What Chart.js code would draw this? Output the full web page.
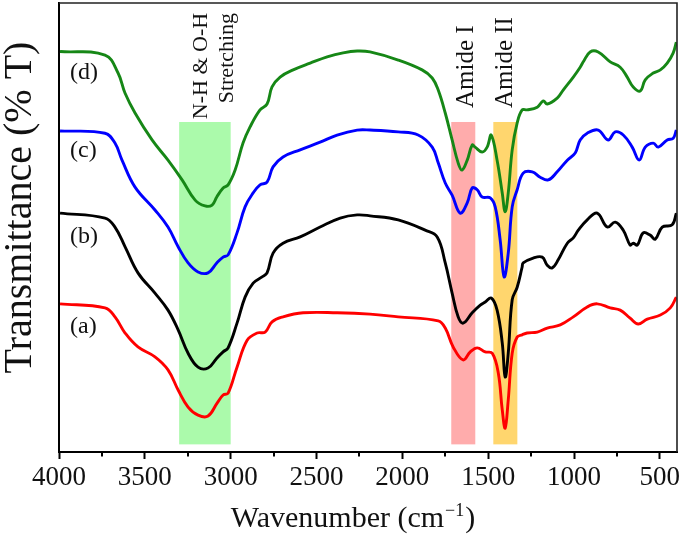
<!DOCTYPE html>
<html>
<head>
<meta charset="utf-8">
<script src="https://cdn.jsdelivr.net/npm/chart.js@4.4.1/dist/chart.umd.min.js"></script>
<style>
  html, body { margin: 0; padding: 0; background: #fff; }
  #wrap { width: 685px; height: 536px; }
</style>
</head>
<body>
<div id="wrap"><canvas id="ftir"></canvas></div>
<script>
// wavenumber (cm-1) and transmittance (arbitrary, offset)
const waveA = [3994, 3732, 3674, 3615, 3540, 3441, 3365, 3306, 3248, 3190, 3132, 3079, 3044, 3015, 2963,
  2904, 2846, 2799, 2759, 2695, 2578, 2380, 2188, 2024, 1791, 1750, 1704, 1646, 1604, 1564,
  1517, 1476, 1441, 1418, 1401, 1383, 1360, 1331, 1302, 1273, 1214, 1156, 1080, 1004, 923,
  865, 789, 731, 673, 626, 573, 497, 439, 404];
const transA = [33.0, 32.1, 30.1, 26.5, 23.4, 21.2, 18.3, 13.8, 10.0, 8.2, 8.0, 10.9, 12.7, 13.1, 18.9,
  24.9, 26.5, 26.7, 29.0, 30.1, 31.0, 31.0, 30.7, 30.1, 29.2, 27.6, 23.4, 20.5, 22.3, 23.2,
  22.3, 22.0, 17.6, 9.4, 5.3, 11.6, 22.0, 25.6, 26.1, 26.5, 26.7, 27.6, 28.3, 30.1, 32.3,
  33.0, 32.1, 31.6, 29.8, 28.5, 29.6, 30.5, 32.1, 34.5];

const waveB = [3994, 3732, 3674, 3615, 3540, 3441, 3365, 3306, 3248, 3190, 3132, 3081, 3044, 3015, 2963,
  2916, 2869, 2817, 2788, 2753, 2695, 2595, 2479, 2362, 2263, 2188, 2024, 1867, 1797, 1750,
  1710, 1675, 1646, 1593, 1546, 1517, 1482, 1448, 1418, 1401, 1383, 1360, 1331, 1302, 1296,
  1238, 1185, 1156, 1127, 1092, 1039, 1004, 975, 923, 865, 806, 760, 713, 673, 655,
  631, 597, 556, 527, 486, 428, 404];
const transB = [53.2, 52.1, 50.1, 45.7, 39.9, 35.4, 31.6, 27.2, 22.0, 18.9, 18.7, 20.9, 22.3, 23.2, 28.7,
  34.5, 37.6, 39.0, 39.9, 44.3, 46.5, 47.9, 50.1, 52.1, 52.8, 52.6, 51.7, 49.4, 47.9, 42.1,
  35.4, 30.1, 28.7, 31.0, 32.7, 33.4, 34.3, 31.6, 24.3, 16.7, 22.0, 33.9, 36.7, 41.2, 42.1,
  43.2, 43.4, 41.6, 41.0, 42.8, 46.5, 47.7, 49.4, 51.7, 53.2, 50.1, 51.2, 49.4, 46.1, 46.5,
  46.1, 48.8, 48.3, 47.4, 50.1, 50.6, 53.2];

const waveC = [3994, 3732, 3674, 3633, 3557, 3441, 3365, 3306, 3248, 3190, 3132, 3081, 3044, 3015, 2963,
  2916, 2869, 2829, 2788, 2753, 2695, 2595, 2479, 2380, 2263, 2188, 2024, 1908, 1826, 1791,
  1750, 1710, 1663, 1622, 1593, 1564, 1535, 1488, 1459, 1430, 1407, 1383, 1360, 1331, 1296,
  1243, 1197, 1150, 1098, 1039, 993, 964, 923, 859, 801, 760, 713, 661, 620, 585,
  538, 509, 457, 422, 404];
const transC = [71.5, 71.0, 68.8, 65.0, 59.0, 53.9, 50.1, 45.7, 42.1, 40.1, 39.9, 42.1, 43.4, 43.9, 48.8,
  54.6, 57.7, 59.5, 60.1, 63.5, 65.7, 67.3, 69.0, 70.6, 71.7, 71.7, 71.3, 70.6, 67.9, 64.4,
  59.9, 57.2, 53.2, 55.5, 58.8, 58.4, 56.8, 56.6, 54.6, 47.2, 39.0, 44.3, 54.6, 58.4, 62.1,
  62.4, 61.2, 60.6, 62.4, 65.0, 66.6, 69.5, 71.0, 71.7, 69.5, 71.3, 70.6, 67.9, 65.0, 67.9,
  68.8, 67.9, 69.5, 69.9, 71.7];

const waveD = [3994, 3732, 3656, 3615, 3557, 3458, 3365, 3283, 3207, 3149, 3108, 3081, 3044, 3015, 2974,
  2928, 2887, 2829, 2788, 2759, 2712, 2636, 2537, 2438, 2345, 2263, 2188, 2024, 1885, 1826,
  1791, 1750, 1710, 1675, 1652, 1622, 1593, 1576, 1535, 1506, 1482, 1448, 1418, 1401, 1383,
  1360, 1331, 1302, 1273, 1214, 1179, 1156, 1098, 1063, 1004, 964, 946, 906, 859, 789,
  731, 690, 655, 614, 585, 538, 497, 457, 422, 404];
const transD = [89.2, 88.4, 84.4, 79.9, 75.5, 69.5, 65.0, 60.6, 56.1, 54.8, 55.0, 56.8, 58.8, 59.5, 62.8,
  68.8, 72.4, 76.2, 77.5, 81.3, 83.5, 85.1, 86.6, 88.0, 88.9, 89.3, 89.1, 87.3, 85.1, 83.3,
  80.6, 75.5, 69.5, 64.4, 62.8, 65.0, 68.4, 67.9, 66.8, 67.9, 70.6, 65.0, 57.7, 53.5, 57.7,
  67.3, 73.3, 76.2, 76.2, 76.8, 78.2, 77.5, 78.8, 80.6, 83.5, 85.7, 86.9, 89.1, 89.1, 86.9,
  85.7, 83.5, 81.3, 80.4, 82.9, 84.4, 85.1, 86.6, 88.9, 91.3];

const seriesNames = ['(a)', '(b)', '(c)', '(d)'];
const majorTicks = [4000, 3500, 3000, 2500, 2000, 1500, 1000, 500];
const minorTicks = [3750, 3250, 2750, 2250, 1750, 1250, 750];

// shaded absorption bands
const bandFrom = [3300, 1715, 1470];
const bandTo = [3000, 1575, 1330];

const SERIF = "'Liberation Serif', 'Times New Roman', serif";

const toPoints = (w, t) => w.map((v, i) => ({ x: v, y: t[i] }));

function vText(ctx, str, px, py, align, size) {
  ctx.save();
  ctx.translate(px, py);
  ctx.rotate(-Math.PI / 2);
  ctx.font = size + 'px ' + SERIF;
  ctx.textAlign = align;
  ctx.textBaseline = 'alphabetic';
  ctx.fillText(str, 0, 0);
  ctx.restore();
}

const decor = {
  id: 'decor',
  beforeDatasetsDraw(chart) {
    const { ctx, scales: { x, y } } = chart;
    const colors = ['#abfaab', '#ffacac', '#ffd66e'];
    ctx.save();
    bandFrom.forEach((from, i) => {
      const x0 = x.getPixelForValue(from);
      const x1 = x.getPixelForValue(bandTo[i]);
      const y0 = y.getPixelForValue(73.5);
      const y1 = y.getPixelForValue(1.7);
      ctx.fillStyle = colors[i];
      ctx.fillRect(x0, y0, x1 - x0, y1 - y0);
    });
    ctx.restore();
  },
  afterDraw(chart) {
    const { ctx, chartArea: a, scales: { x, y } } = chart;
    ctx.save();
    // top and right frame
    ctx.strokeStyle = '#222';
    ctx.lineWidth = 1.6;
    ctx.beginPath();
    ctx.moveTo(a.left, a.top);
    ctx.lineTo(a.right, a.top);
    ctx.lineTo(a.right, a.bottom);
    ctx.stroke();
    // minor ticks
    ctx.strokeStyle = '#000';
    ctx.lineWidth = 2;
    minorTicks.forEach(v => {
      const px = Math.round(x.getPixelForValue(v));
      ctx.beginPath();
      ctx.moveTo(px, a.bottom);
      ctx.lineTo(px, a.bottom + 4.5);
      ctx.stroke();
    });

    ctx.fillStyle = '#111';
    // band labels
    vText(ctx, 'N-H & O-H', x.getPixelForValue(3138), y.getPixelForValue(97.8), 'right', 22);
    vText(ctx, 'Stretching', x.getPixelForValue(2988), y.getPixelForValue(97.8), 'right', 22);
    vText(ctx, 'Amide I', x.getPixelForValue(1587), y.getPixelForValue(76.6), 'left', 25);
    vText(ctx, 'Amide II', x.getPixelForValue(1360), y.getPixelForValue(76.6), 'left', 25);

    // curve labels
    const labelY = [27.8, 47.9, 67.0, 84.4];
    ctx.font = '24px ' + SERIF;
    ctx.textAlign = 'left';
    ctx.textBaseline = 'middle';
    seriesNames.forEach((s, i) => ctx.fillText(s, x.getPixelForValue(3936), y.getPixelForValue(labelY[i])));

    // axis titles
    ctx.fillStyle = '#111';
    ctx.textBaseline = 'alphabetic';
    const big = '30px ' + SERIF, small = '18px ' + SERIF;
    const p1 = 'Wavenumber (cm', p2 = '\u22121', p3 = ')';
    ctx.font = big;
    const w1 = ctx.measureText(p1).width, w3 = ctx.measureText(p3).width;
    ctx.font = small;
    const w2 = ctx.measureText(p2).width;
    let tx = (a.left + a.right) / 2 - 16 - (w1 + w2 + w3) / 2;
    const ty = 527;
    ctx.textAlign = 'left';
    ctx.font = big; ctx.fillText(p1, tx, ty); tx += w1;
    ctx.font = small; ctx.fillText(p2, tx + 1, ty - 11); tx += w2 + 2;
    ctx.font = big; ctx.fillText(p3, tx, ty);

    vText(ctx, 'Transmittance (% T)', 31, (a.top + a.bottom) / 2 - 20, 'center', 40);
    ctx.restore();
  }
};

new Chart(document.getElementById('ftir'), {
  type: 'line',
  data: {
    datasets: [
      { label: seriesNames[0], data: toPoints(waveA, transA), borderColor: 'rgb(255, 0, 0)' },
      { label: seriesNames[1], data: toPoints(waveB, transB), borderColor: '#000000' },
      { label: seriesNames[2], data: toPoints(waveC, transC), borderColor: 'rgb(0, 0, 255)' },
      { label: seriesNames[3], data: toPoints(waveD, transD), borderColor: 'rgb(22, 135, 22)' }
    ]
  },
  options: {
    responsive: true,
    maintainAspectRatio: false,
    animation: false,
    layout: { padding: { top: 3, right: 8, left: 0, bottom: 0 } },
    elements: {
      point: { radius: 0 },
      line: { borderWidth: 2.9, tension: 0.4, fill: false }
    },
    plugins: {
      legend: { display: false },
      tooltip: { enabled: false }
    },
    scales: {
      x: {
        type: 'linear',
        reverse: true,
        min: 400,
        max: 4000,
        afterBuildTicks: axis => { axis.ticks = majorTicks.map(v => ({ value: v })); },
        afterFit: axis => { axis.height = 84; },
        border: { display: true, color: '#000', width: 2 },
        grid: { drawOnChartArea: false, drawTicks: true, tickLength: 7, tickWidth: 2, tickColor: '#000' },
        ticks: {
          color: '#111',
          padding: 3,
          maxRotation: 0,
          autoSkip: false,
          font: { family: SERIF, size: 27 },
          callback: v => String(v)
        }
      },
      y: {
        min: 0,
        max: 100,
        afterFit: axis => { axis.width = 59; },
        border: { display: true, color: '#000', width: 2 },
        grid: { display: false },
        ticks: { display: false }
      }
    }
  },
  plugins: [decor]
});
</script>
</body>
</html>
